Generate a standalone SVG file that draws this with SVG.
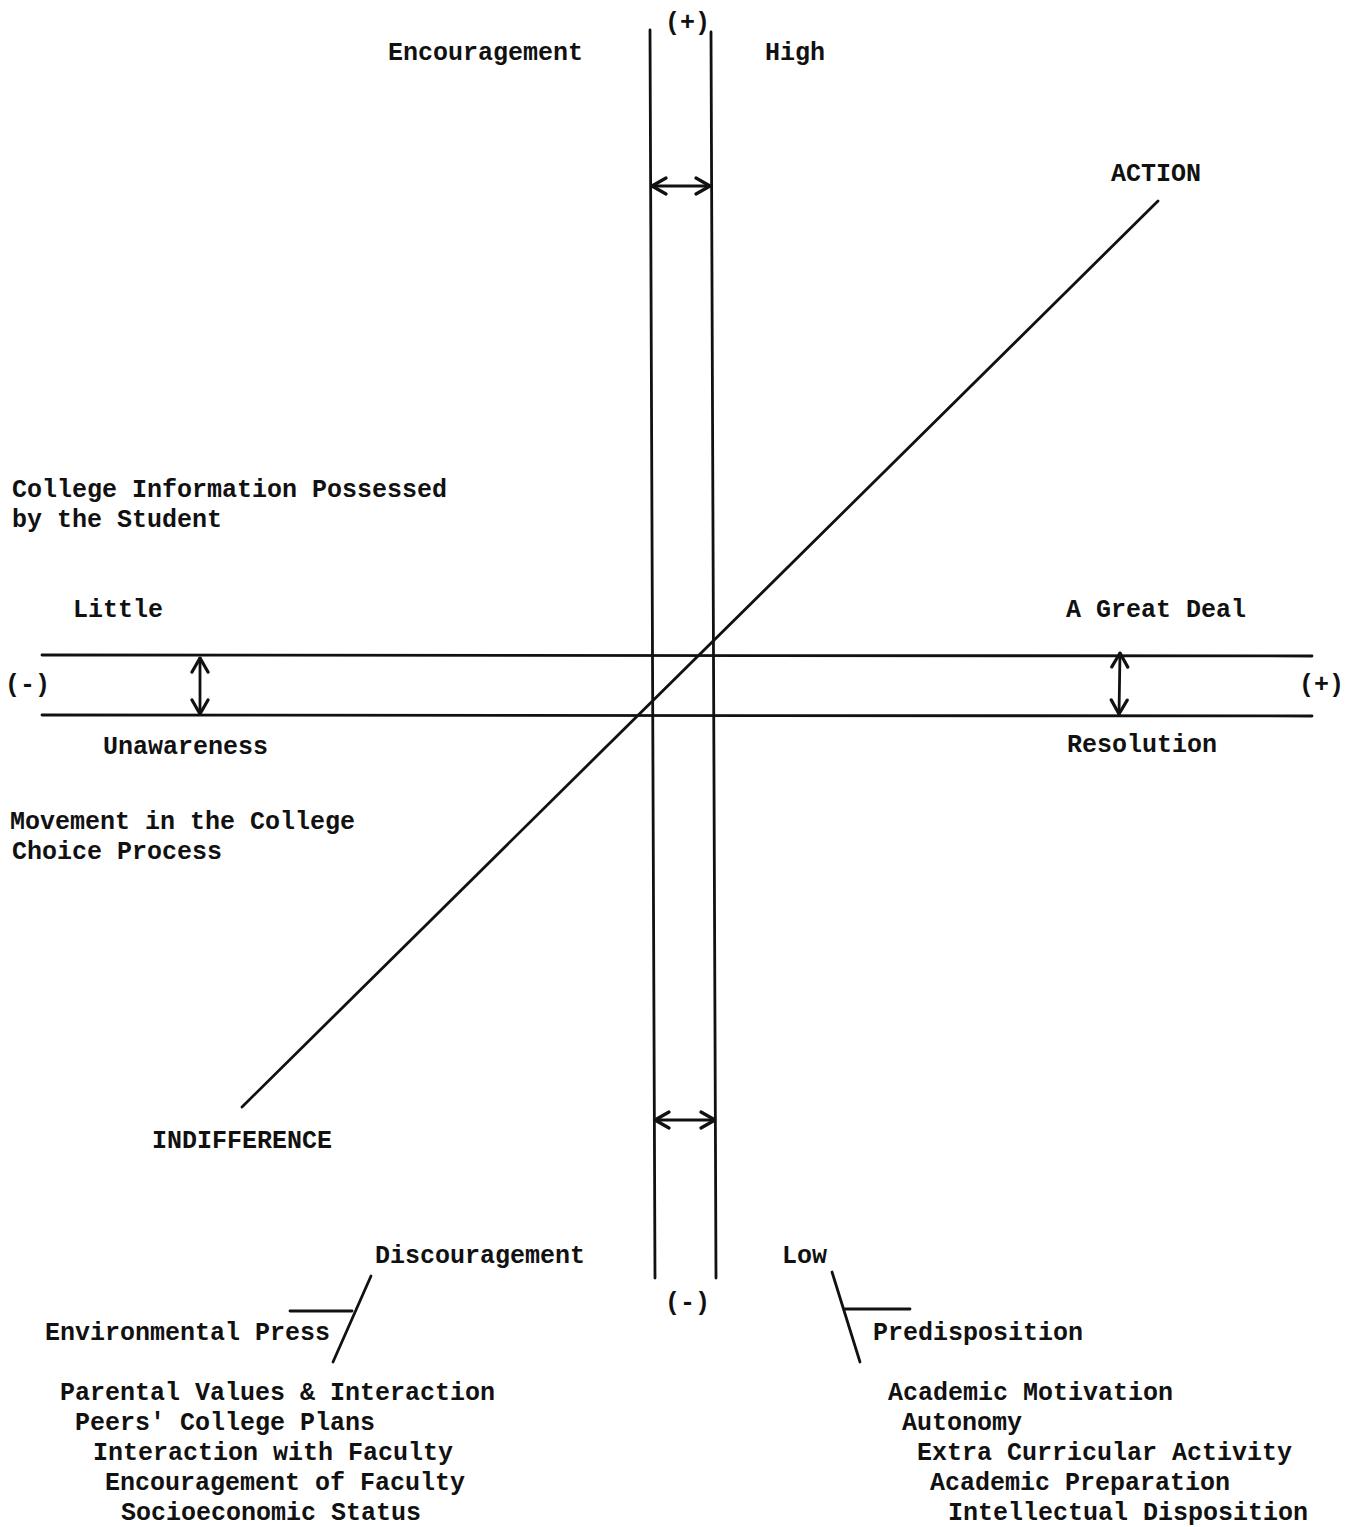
<svg xmlns="http://www.w3.org/2000/svg" width="1370" height="1527" viewBox="0 0 1370 1527">
<style>
text{font-family:"Liberation Mono","Courier New",monospace;font-size:25px;font-weight:bold;fill:#111}
.ln{stroke:#111;stroke-width:2.8;fill:none;stroke-linecap:round}
</style>
<defs>
<marker id="ah" viewBox="0 0 20 20" refX="19" refY="10" markerWidth="20" markerHeight="20" markerUnits="userSpaceOnUse" orient="auto-start-reverse">
<path d="M5,2 L19,10 L5,18" fill="none" stroke="#111" stroke-width="3.2" stroke-linecap="round" stroke-linejoin="round"/>
</marker>
</defs>
<rect width="1370" height="1527" fill="#fff"/>
<g id="connectors">
<line class="ln" x1="650" y1="30" x2="655" y2="1278"/>
<line class="ln" x1="711" y1="32" x2="716" y2="1278"/>
<line class="ln" x1="42" y1="655" x2="1312" y2="656"/>
<line class="ln" x1="42" y1="715" x2="1312" y2="716"/>
<line class="ln" x1="242" y1="1107" x2="1158" y2="201"/>
<line class="ln" x1="652" y1="186" x2="710" y2="186" marker-start="url(#ah)" marker-end="url(#ah)"/>
<line class="ln" x1="655" y1="1120" x2="715" y2="1120" marker-start="url(#ah)" marker-end="url(#ah)"/>
<line class="ln" x1="200" y1="658" x2="200" y2="714" marker-start="url(#ah)" marker-end="url(#ah)"/>
<line class="ln" x1="1120" y1="653" x2="1119" y2="714" marker-start="url(#ah)" marker-end="url(#ah)"/>
<line class="ln" x1="290" y1="1311" x2="352" y2="1311"/>
<line class="ln" x1="371" y1="1276" x2="333" y2="1362"/>
<line class="ln" x1="832" y1="1272" x2="860" y2="1362"/>
<line class="ln" x1="845" y1="1309" x2="910" y2="1309"/>
</g>
<g id="labels">
<text x="665" y="30">(+)</text>
<text x="388" y="60">Encouragement</text>
<text x="765" y="60">High</text>
<text x="1111" y="181">ACTION</text>
<text x="12" y="497">College Information Possessed</text>
<text x="12" y="527">by the Student</text>
<text x="73" y="617">Little</text>
<text x="1066" y="617">A Great Deal</text>
<text x="5" y="692">(-)</text>
<text x="1299" y="692">(+)</text>
<text x="103" y="754">Unawareness</text>
<text x="1067" y="752">Resolution</text>
<text x="10" y="829">Movement in the College</text>
<text x="12" y="859">Choice Process</text>
<text x="152" y="1148">INDIFFERENCE</text>
<text x="375" y="1263">Discouragement</text>
<text x="782" y="1263">Low</text>
<text x="665" y="1310">(-)</text>
<text x="45" y="1340">Environmental Press</text>
<text x="873" y="1340">Predisposition</text>
</g>
<g id="environmental-list">
<text x="60" y="1400">Parental Values &amp; Interaction</text>
<text x="75" y="1430">Peers' College Plans</text>
<text x="93" y="1460">Interaction with Faculty</text>
<text x="105" y="1490">Encouragement of Faculty</text>
<text x="121" y="1520">Socioeconomic Status</text>
</g>
<g id="predisposition-list">
<text x="888" y="1400">Academic Motivation</text>
<text x="902" y="1430">Autonomy</text>
<text x="917" y="1460">Extra Curricular Activity</text>
<text x="930" y="1490">Academic Preparation</text>
<text x="948" y="1520">Intellectual Disposition</text>
</g>
</svg>
